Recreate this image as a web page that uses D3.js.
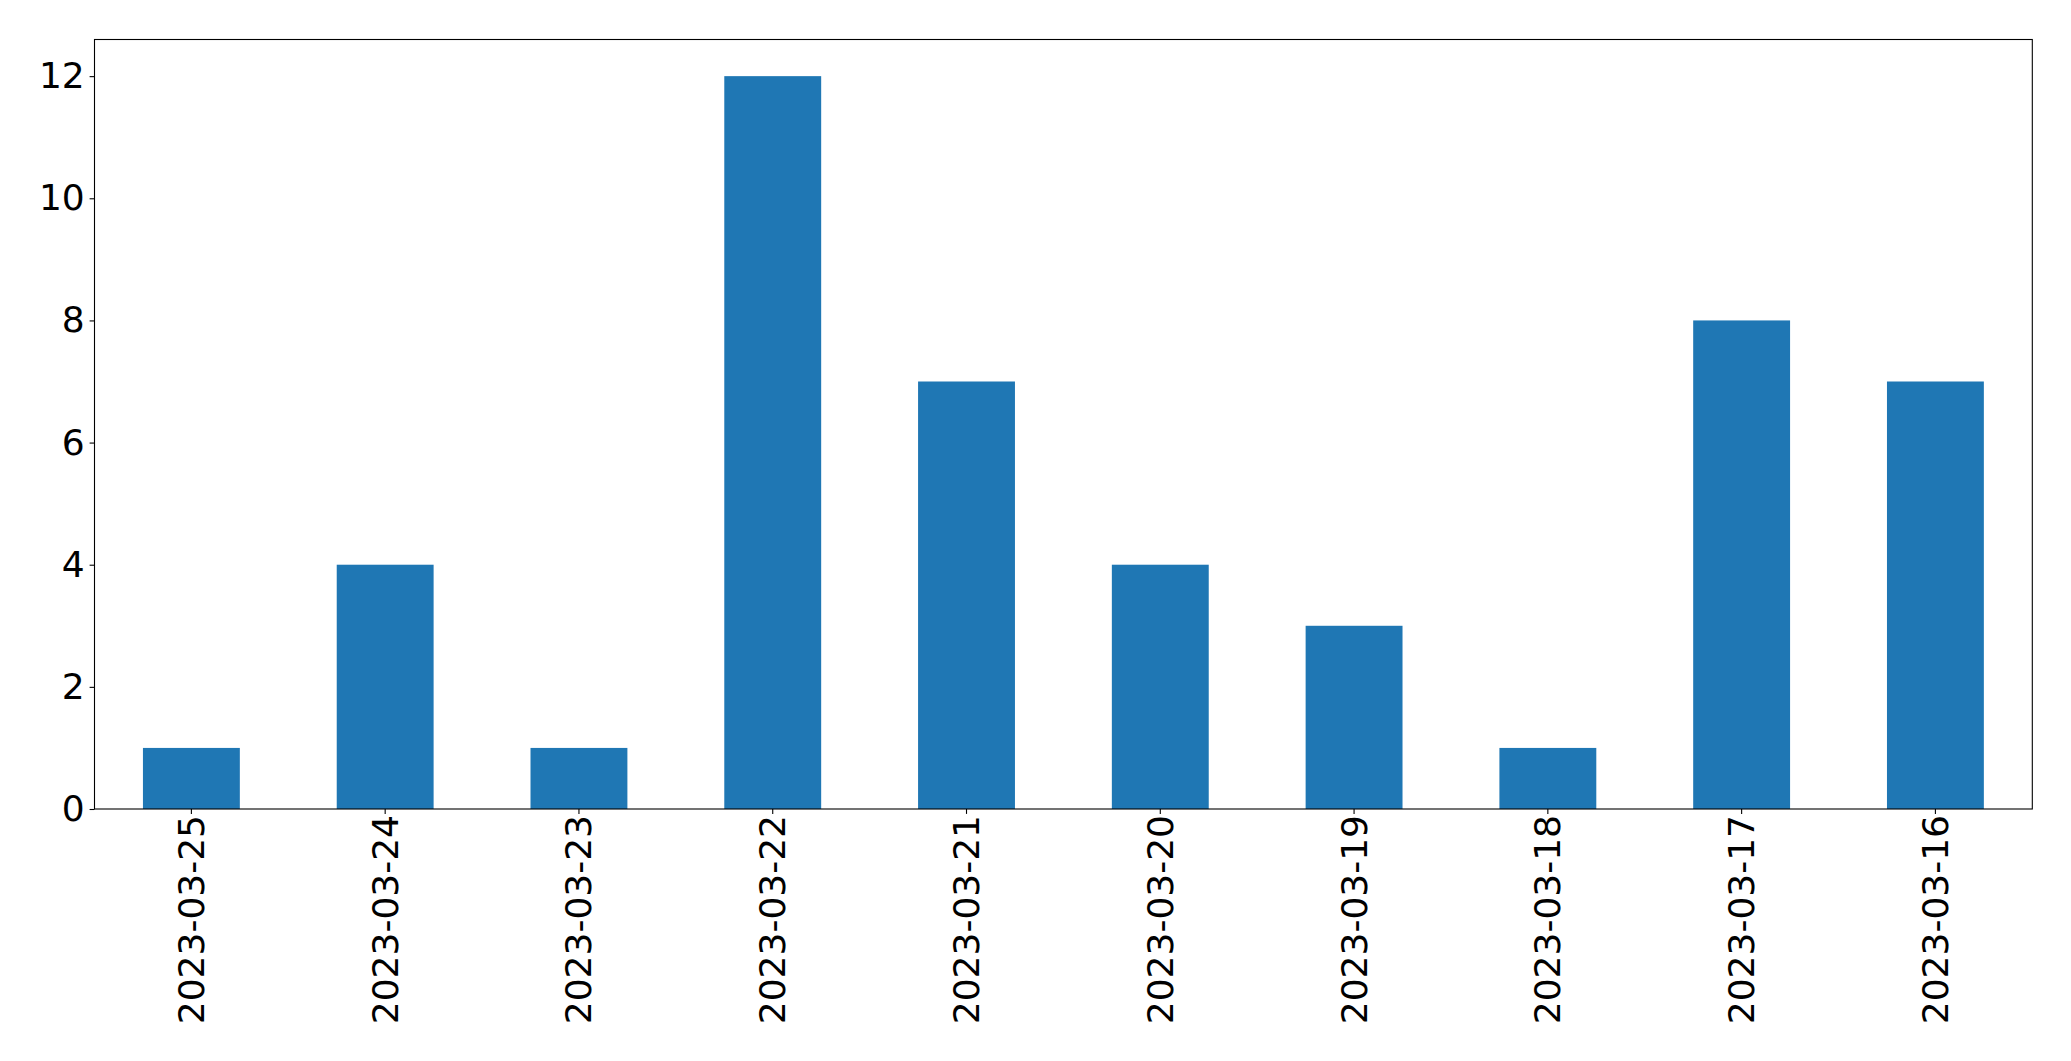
<!DOCTYPE html>
<html><head><meta charset="utf-8">
<script src="https://cdn.jsdelivr.net/npm/d3@7"></script>
<style>html,body{margin:0;padding:0;background:#fff;}svg{display:block;}</style>
</head><body>
<svg id="c" width="2071" height="1061"></svg>
<script>
const categories = ["2023-03-25","2023-03-24","2023-03-23","2023-03-22","2023-03-21","2023-03-20","2023-03-19","2023-03-18","2023-03-17","2023-03-16"];
const values = [1,4,1,12,7,4,3,1,8,7];
const yTicks = [0,2,4,6,8,10,12];

const svg = d3.select("#c");
const L = 94.5, R = 2032.3, T = 39.5, B = 809;
const font = "DejaVu Sans, sans-serif";
const fs = 36;

const x = d3.scaleBand().domain(categories).range([L, R]).paddingInner(0.5).paddingOuter(0.25);
const y = d3.scaleLinear().domain([0, 12.6]).range([B, T]);

svg.append("g").selectAll("rect").data(values).join("rect")
  .attr("x", (d,i) => x(categories[i]))
  .attr("width", x.bandwidth())
  .attr("y", d => y(d))
  .attr("height", d => y(0) - y(d))
  .attr("fill", "#1f77b4");

// x axis
const xa = svg.append("g").attr("transform", `translate(0,${B})`)
  .call(d3.axisBottom(x).tickSize(4.9).tickPadding(4.9).tickSizeOuter(0));
xa.select(".domain").remove();
xa.selectAll(".tick line").attr("stroke", "#000").attr("stroke-width", 1.1);
xa.selectAll(".tick text")
  .attr("font-family", font).attr("font-size", fs).attr("fill", "#000")
  .attr("text-anchor", "end").attr("dy", null)
  .attr("dominant-baseline", "central")
  .attr("transform", "translate(0,6) rotate(-90)")
  .attr("x", 0).attr("y", 0);

// y axis
const ya = svg.append("g").attr("transform", `translate(${L},0)`)
  .call(d3.axisLeft(y).tickValues(yTicks).tickSize(4.9).tickPadding(4.9).tickFormat(d3.format("d")));
ya.select(".domain").remove();
ya.selectAll(".tick line").attr("stroke", "#000").attr("stroke-width", 1.1);
ya.selectAll(".tick text").attr("font-family", font).attr("font-size", fs).attr("fill", "#000");

// frame
svg.append("rect").attr("x", L).attr("y", T).attr("width", R - L).attr("height", B - T)
  .attr("fill", "none").attr("stroke", "#000").attr("stroke-width", 1.1);
</script>
</body></html>
